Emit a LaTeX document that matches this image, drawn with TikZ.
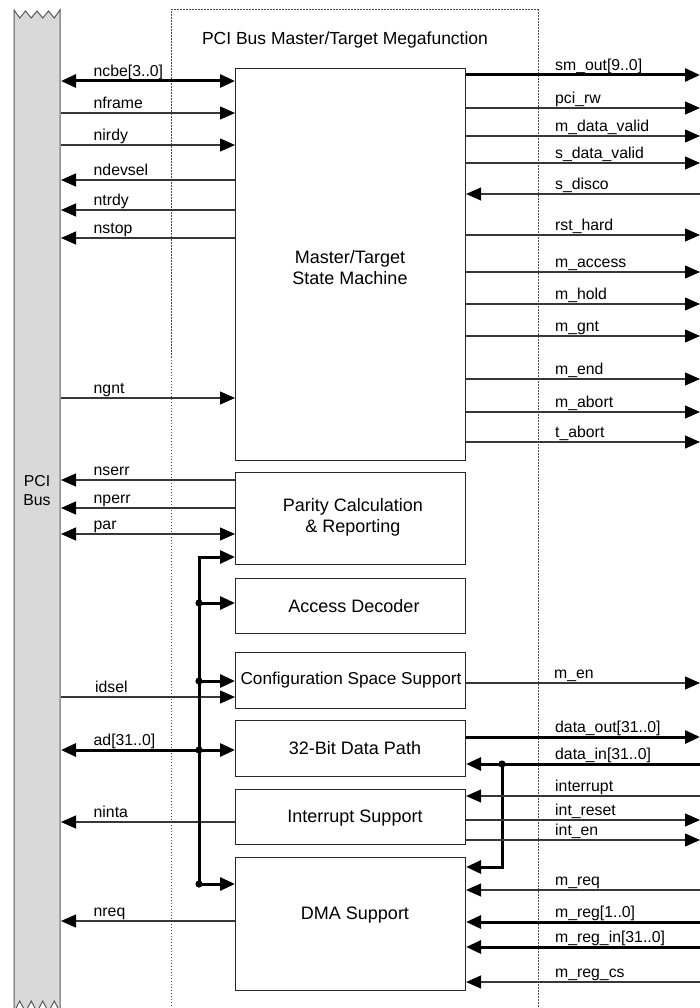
\documentclass[tikz,border=0pt]{standalone}
\usepackage{fontspec}
\setmainfont{Liberation Sans}
\usetikzlibrary{arrows.meta}
\definecolor{busgray}{RGB}{217,217,217}
\definecolor{linegray}{RGB}{55,55,55}
\begin{document}
\begin{tikzpicture}[x=1pt,y=-1pt,
  blk/.style={draw=black!85, line width=1.1pt, inner sep=0pt, anchor=north west, minimum width=230pt},
  txt/.style={font=\fontsize{18}{21}\selectfont, align=center, inner sep=0pt},
  lbl/.style={font=\fontsize{15.8}{18}\selectfont, anchor=base west, inner sep=0pt},
  sig/.style={line width=1.1pt, draw=linegray},
  bsig/.style={line width=3pt, draw=black},
  tip/.style={-{Triangle[length=15pt,width=13pt,color=black]}},
  dtip/.style={{Triangle[length=15pt,width=13pt,color=black]}-{Triangle[length=15pt,width=13pt,color=black]}},
  frame/.style={line width=1pt, draw=black!70, dash pattern=on 1.5pt off 1.5pt},
  dot/.style={fill=black}
]
\useasboundingbox (0,0) rectangle (700,1008);

% PCI bus
\filldraw[fill=busgray, draw=black!65, line width=1pt]
  (14,10) -- (19.75,18) -- (25.5,11) -- (31.25,18) -- (37,11) -- (42.75,18) -- (48.5,11) -- (54.25,18) -- (60,10)
  -- (60,1012) -- (54.25,1001) -- (48.5,1012) -- (42.75,1001) -- (37,1012) -- (31.25,1001) -- (25.5,1012) -- (19.75,1001) -- (14,1012) -- cycle;
\node[font=\fontsize{15.8}{19}\selectfont, align=center, inner sep=0pt] (pcibus) at (37,491) {PCI\\Bus};
\coordinate (busE) at (61,0);
\coordinate (R) at (700,0);

% megafunction frame
\draw[frame] (171,1015) -- (171,10) -- (538,10) -- (538,1015);
\node[font=\fontsize{17.5}{20}\selectfont, inner sep=0pt] (title) at (345,40) {PCI Bus Master/Target Megafunction};

% blocks
\node[blk, minimum height=392pt] (sm) at (235,68) {};
\node[blk, minimum height=92pt] (par) at (235,472) {};
\node[blk, minimum height=55pt] (acc) at (235,578) {};
\node[blk, minimum height=56pt] (cfg) at (235,652) {};
\node[blk, minimum height=56pt] (dp) at (235,720) {};
\node[blk, minimum height=55pt] (irq) at (235,789) {};
\node[blk, minimum height=133pt] (dma) at (235,857) {};

\node[txt] (smt) at (350,268) {Master/Target\\State Machine};
\node[txt] (part) at (353,517.5) {Parity Calculation\\\& Reporting};
\node[txt] (acct) at (354,606) {Access Decoder};
\node[txt, font=\fontsize{17.2}{20}\selectfont] (cfgt) at (351,680) {Configuration Space Support};
\node[txt] (dpt) at (355,748) {32-Bit Data Path};
\node[txt] (irqt) at (355,818) {Interrupt Support};
\node[txt] (dmat) at (355,915) {DMA Support};

% left signals
\draw[bsig,dtip] (busE |- 0,81) -- (sm.west |- 0,81);
\node[lbl] at (93.5,76.5) {ncbe[3..0]};
\draw[sig,tip] (busE |- 0,113) -- (sm.west |- 0,113);
\node[lbl] at (93.5,108.5) {nframe};
\draw[sig,tip] (busE |- 0,145) -- (sm.west |- 0,145);
\node[lbl] at (93.5,140.5) {nirdy};
\draw[sig,tip] (sm.west |- 0,180) -- (busE |- 0,180);
\node[lbl] at (93.5,175.5) {ndevsel};
\draw[sig,tip] (sm.west |- 0,210) -- (busE |- 0,210);
\node[lbl] at (93.5,205.5) {ntrdy};
\draw[sig,tip] (sm.west |- 0,238) -- (busE |- 0,238);
\node[lbl] at (93.5,233.5) {nstop};
\draw[sig,tip] (busE |- 0,398) -- (sm.west |- 0,398);
\node[lbl] at (93.5,393.5) {ngnt};
\draw[sig,tip] (par.west |- 0,480) -- (busE |- 0,480);
\node[lbl] at (93.5,475.5) {nserr};
\draw[sig,tip] (par.west |- 0,508) -- (busE |- 0,508);
\node[lbl] at (93.5,503.5) {nperr};
\draw[sig,dtip] (busE |- 0,534) -- (par.west |- 0,534);
\node[lbl] at (93.5,529.5) {par};
\draw[sig,tip] (busE |- 0,697) -- (cfg.west |- 0,697);
\node[lbl] at (95,692.5) {idsel};
\draw[bsig,dtip] (busE |- 0,750) -- (dp.west |- 0,750);
\node[lbl] at (93.5,745.5) {ad[31..0]};
\draw[sig,tip] (irq.west |- 0,822) -- (busE |- 0,822);
\node[lbl] at (93.5,817.5) {ninta};
\draw[sig,tip] (dma.west |- 0,921) -- (busE |- 0,921);
\node[lbl] at (93.5,916.5) {nreq};

% internal bus
\coordinate (ibT) at (199,557);
\coordinate (ibB) at (199,884);
\draw[bsig,tip,line join=miter] (ibB) -- (ibT) -- (par.west |- ibT);
\draw[bsig,tip] (ibT |- 0,603) -- (acc.west |- 0,603);
\draw[bsig,tip] (ibT |- 0,681) -- (cfg.west |- 0,681);
\draw[bsig,tip] (ibB) -- (dma.west |- ibB);
\fill[dot] (ibT |- 0,603) circle (3.6pt);
\fill[dot] (ibT |- 0,681) circle (3.6pt);
\fill[dot] (ibT |- 0,750) circle (3.6pt);
\fill[dot] (ibB) circle (3.6pt);

% right signals
\draw[bsig,tip] (sm.east |- 0,75) -- (R |- 0,75);
\node[lbl] at (555,70.5) {sm\_out[9..0]};
\draw[sig,tip] (sm.east |- 0,108) -- (R |- 0,108);
\node[lbl] at (555,103.5) {pci\_rw};
\draw[sig,tip] (sm.east |- 0,136) -- (R |- 0,136);
\node[lbl] at (555,131.5) {m\_data\_valid};
\draw[sig,tip] (sm.east |- 0,163) -- (R |- 0,163);
\node[lbl] at (555,158.5) {s\_data\_valid};
\draw[sig,tip] (R |- 0,194) -- (sm.east |- 0,194);
\node[lbl] at (555,189.5) {s\_disco};
\draw[sig,tip] (sm.east |- 0,235) -- (R |- 0,235);
\node[lbl] at (555,230.5) {rst\_hard};
\draw[sig,tip] (sm.east |- 0,272) -- (R |- 0,272);
\node[lbl] at (555,267.5) {m\_access};
\draw[sig,tip] (sm.east |- 0,304) -- (R |- 0,304);
\node[lbl] at (555,299.5) {m\_hold};
\draw[sig,tip] (sm.east |- 0,336) -- (R |- 0,336);
\node[lbl] at (555,331.5) {m\_gnt};
\draw[sig,tip] (sm.east |- 0,379) -- (R |- 0,379);
\node[lbl] at (555,374.5) {m\_end};
\draw[sig,tip] (sm.east |- 0,412) -- (R |- 0,412);
\node[lbl] at (555,407.5) {m\_abort};
\draw[sig,tip] (sm.east |- 0,442) -- (R |- 0,442);
\node[lbl] at (555,437.5) {t\_abort};
\draw[sig,tip] (cfg.east |- 0,683) -- (R |- 0,683);
\node[lbl] at (554,678.5) {m\_en};
\draw[bsig,tip] (dp.east |- 0,737) -- (R |- 0,737);
\node[lbl] at (555,732.5) {data\_out[31..0]};
\draw[bsig,tip] (R |- 0,764) -- (dp.east |- 0,764);
\node[lbl] at (555,759.5) {data\_in[31..0]};
\coordinate (br) at (502,764);
\draw[bsig,tip,line join=miter] (br) -- (br |- 0,867) -- (dma.east |- 0,867);
\fill[dot] (br) circle (3.6pt);
\draw[sig,tip] (R |- 0,796) -- (irq.east |- 0,796);
\node[lbl] at (555,791.5) {interrupt};
\draw[sig,tip] (irq.east |- 0,820) -- (R |- 0,820);
\node[lbl] at (555,815.5) {int\_reset};
\draw[sig,tip] (irq.east |- 0,840) -- (R |- 0,840);
\node[lbl] at (555,835.5) {int\_en};
\draw[sig,tip] (R |- 0,890) -- (dma.east |- 0,890);
\node[lbl] at (555,885.5) {m\_req};
\draw[bsig,tip] (R |- 0,922) -- (dma.east |- 0,922);
\node[lbl] at (555,917.5) {m\_reg[1..0]};
\draw[bsig,tip] (R |- 0,947) -- (dma.east |- 0,947);
\node[lbl] at (555,942.5) {m\_reg\_in[31..0]};
\draw[sig,tip] (R |- 0,982) -- (dma.east |- 0,982);
\node[lbl] at (555,977.5) {m\_reg\_cs};
\end{tikzpicture}
\end{document}
